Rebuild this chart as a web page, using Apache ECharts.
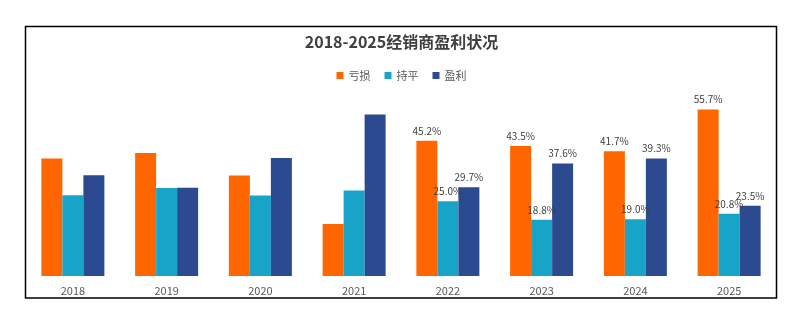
<!DOCTYPE html>
<html>
<head>
<meta charset="utf-8">
<script src="https://cdn.jsdelivr.net/npm/echarts@6/dist/echarts.min.js"></script>
<style>
  html, body { margin: 0; padding: 0; background: #ffffff; }
  #chart { width: 803px; height: 324px; }
</style>
</head>
<body>
<div id="chart"></div>
<script>
// Years on the category axis
const categories = ['2018', '2019', '2020', '2021', '2022', '2023', '2024', '2025'];

// Share of dealers (%) in each state per year
const lossShare   = [39.3, 41.1, 33.6, 17.4, 45.2, 43.5, 41.7, 55.7];
const evenShare   = [27.0, 29.4, 26.9, 28.6, 25.0, 18.8, 19.0, 20.8];
const profitShare = [33.7, 29.5, 39.5, 54.0, 29.7, 37.6, 39.3, 23.5];

const seriesNames = ['亏损', '持平', '盈利'];

// Only the most recent years carry value labels
const labeledYears = ['2022', '2023', '2024', '2025'];

const colors = ['#FF6600', '#18A3C9', '#2C4A90'];
const fontFamily = '"Noto Sans CJK SC", "Noto Sans", sans-serif';

function makeSeries(name, values, color) {
  return {
    name: name,
    type: 'bar',
    data: values,
    barWidth: 21,
    barGap: '0%',
    itemStyle: { color: color },
    label: {
      show: true,
      position: 'top',
      distance: 5,
      color: '#404040',
      fontSize: 10,
      fontFamily: fontFamily,
      formatter: function (p) {
        return labeledYears.indexOf(p.name) >= 0 ? p.value.toFixed(1) + '%' : '';
      }
    }
  };
}

const chart = echarts.init(document.getElementById('chart'), null, { renderer: 'canvas' });
chart.setOption({
  backgroundColor: '#ffffff',
  animation: false,
  color: colors,
  textStyle: { fontFamily: fontFamily },
  title: {
    text: '2018-2025经销商盈利状况',
    left: 'center',
    top: 29,
    textStyle: { fontSize: 16, fontWeight: 'bold', color: '#404040', fontFamily: fontFamily }
  },
  legend: {
    data: seriesNames,
    top: 65,
    left: 'center',
    icon: 'rect',
    itemWidth: 7,
    itemHeight: 7,
    itemGap: 14,
    textStyle: { fontSize: 11, color: '#595959', fontFamily: fontFamily }
  },
  grid: { left: 26, right: 27, top: 96.6, bottom: 48, containLabel: false },
  xAxis: {
    type: 'category',
    data: categories,
    axisLine: { show: false },
    axisTick: { show: false },
    axisLabel: { margin: 9, fontSize: 11, color: '#595959', fontFamily: fontFamily }
  },
  yAxis: {
    type: 'value',
    min: 0,
    max: 60,
    show: false,
    splitLine: { show: false }
  },
  graphic: [{
    type: 'rect',
    shape: { x: 25.5, y: 26.5, width: 751, height: 271.5 },
    style: { fill: 'none', stroke: '#000000', lineWidth: 1.5 },
    silent: true
  }],
  series: [
    makeSeries(seriesNames[0], lossShare, colors[0]),
    makeSeries(seriesNames[1], evenShare, colors[1]),
    makeSeries(seriesNames[2], profitShare, colors[2])
  ]
});
</script>
</body>
</html>
